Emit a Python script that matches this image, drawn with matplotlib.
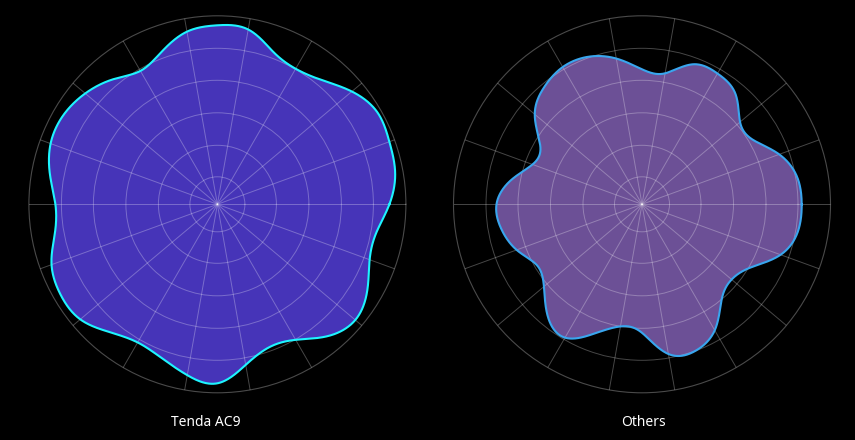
import numpy as np
import matplotlib
matplotlib.use("Agg")
import matplotlib.pyplot as plt

# Angles (degrees, counter-clockwise from east) at which the outline was read
angles_deg = list(range(0, 360, 10))

# Outline radius (in ring units where outer ring = 188.5)
tenda_ac9 = [172, 180.5, 183, 184.5, 175.5, 162.2, 156.5, 162.5, 177.5, 179,
             175.3, 162.5, 154, 163, 172.5, 178, 177.5, 170, 162, 165,
             176.5, 181, 179, 167, 159.5, 163.5, 173.5, 179, 163, 152,
             156.5, 172, 180, 173, 162, 161.5]
others = [159.7, 157.5, 146, 128.5, 128, 145, 151, 149, 133, 135,
          148, 157, 158.5, 152.5, 140, 117.5, 116.5, 134, 145.5, 142.8,
          133.4, 121.5, 128, 146.5, 154, 137.3, 124, 128.5, 152, 156,
          145.5, 124, 117, 126, 147.5, 158.2]

titles = ["Tenda AC9", "Others"]
ring_values = [27.5, 59, 91.5, 124, 156]
r_max = 188.5


def periodic_spline(theta, r, n_out=1440):
    n = len(r)
    h = theta[1] - theta[0]
    r = np.asarray(r, float)
    A = np.zeros((n, n))
    b = np.zeros(n)
    for i in range(n):
        A[i, (i - 1) % n] = 1
        A[i, i] = 4
        A[i, (i + 1) % n] = 1
        b[i] = 6.0 / h**2 * (r[(i + 1) % n] - 2 * r[i] + r[(i - 1) % n])
    M = np.linalg.solve(A, b)
    t = np.linspace(0, 2 * np.pi, n_out, endpoint=False)
    idx = np.floor(t / h).astype(int) % n
    x = t - idx * h
    j = (idx + 1) % n
    out = (M[idx] * (h - x)**3 / (6 * h) + M[j] * x**3 / (6 * h)
           + (r[idx] / h - M[idx] * h / 6) * (h - x)
           + (r[j] / h - M[j] * h / 6) * x)
    return np.append(t, 2 * np.pi), np.append(out, out[0])


fig = plt.figure(figsize=(8.55, 4.4), dpi=100, facecolor="black")
theta = np.deg2rad(angles_deg)

series = [tenda_ac9, others]
fills = ["#4634B8", "#6C5096"]
edges = ["#1EF4FF", "#39A6EE"]
positions = [[28.9 / 855, 47.2 / 440, 377 / 855, 377 / 440],
             [453.5 / 855, 47.2 / 440, 377 / 855, 377 / 440]]
label_x = [206 / 855, 643.5 / 855]

for k in range(2):
    ax = fig.add_axes(positions[k], projection="polar")
    ax.set_facecolor("black")
    t, rr = periodic_spline(theta, series[k])
    ax.fill(t, rr, color=fills[k], zorder=1, lw=0)
    ax.plot(t, rr, color=edges[k], lw=1.5, zorder=3)
    ax.set_ylim(0, r_max)
    ax.set_thetagrids(range(0, 360, 20), labels=[])
    ax.set_rgrids(ring_values, labels=[])
    ax.grid(True, color="white", alpha=0.28, lw=0.7)
    ax.set_axisbelow(False)
    for gl in ax.xaxis.get_gridlines() + ax.yaxis.get_gridlines():
        gl.set_zorder(2)
    ax.spines["polar"].set_color("#4a4a4a")
    ax.spines["polar"].set_linewidth(0.8)
    ax.tick_params(length=0)
    fig.text(label_x[k], 1 - 422.5 / 440, titles[k], color="white",
             ha="center", va="center", fontsize=10, family="Noto Sans")

fig.savefig("out.png", dpi=100, facecolor="black")
